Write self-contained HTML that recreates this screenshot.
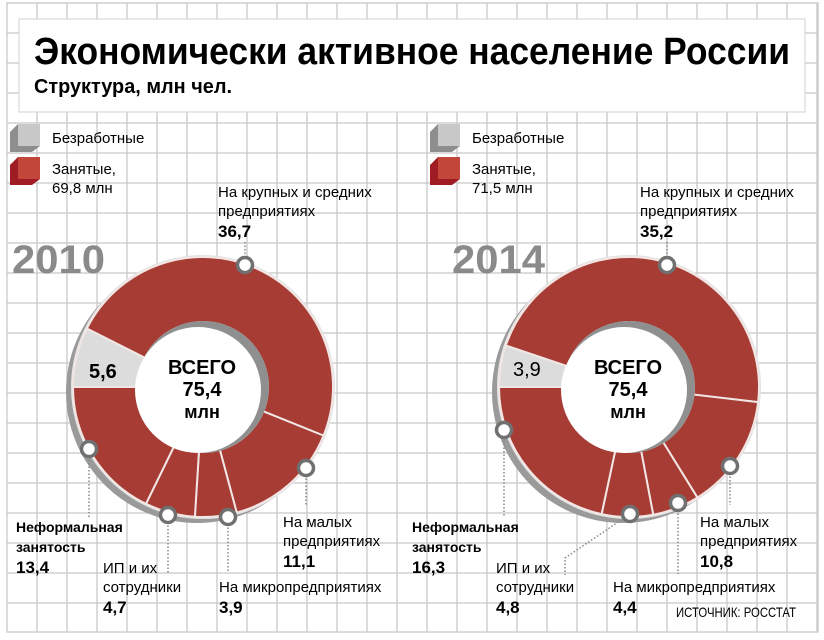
<!DOCTYPE html>
<html><head><meta charset="utf-8"><style>
html,body{margin:0;padding:0;background:#fff;}
svg{display:block;font-family:"Liberation Sans",sans-serif;}
</style></head><body>
<svg id="s" width="824" height="640" viewBox="0 0 824 640" xmlns="http://www.w3.org/2000/svg">
<g id="grid" stroke="#c8c8c8" stroke-width="1.3"></g>
<rect x="7" y="3" width="811" height="629" fill="none" stroke="#c8c8c8" stroke-width="1.3"/>
<rect x="19" y="19" width="786" height="93" fill="#fff" stroke="#d0d0d0" stroke-width="1"/>
<text x="34" y="64" font-size="38" font-weight="bold" textLength="756" lengthAdjust="spacingAndGlyphs">Экономически активное население России</text>
<text x="34" y="93" font-size="20" font-weight="bold" textLength="198" lengthAdjust="spacingAndGlyphs">Структура, млн чел.</text>
<g id="charts"></g>
<text x="676" y="617" font-size="14" textLength="120" lengthAdjust="spacingAndGlyphs">ИСТОЧНИК: РОССТАТ</text>
</svg>
<script>
const NS="http://www.w3.org/2000/svg";
const g=document.getElementById('grid');
for(let x=37;x<818;x+=30){const l=document.createElementNS(NS,'line');l.setAttribute('x1',x);l.setAttribute('x2',x);l.setAttribute('y1',3);l.setAttribute('y2',632);g.appendChild(l);}
for(let y=33;y<632;y+=30){const l=document.createElementNS(NS,'line');l.setAttribute('y1',y);l.setAttribute('y2',y);l.setAttribute('x1',7);l.setAttribute('x2',818);g.appendChild(l);}
const C=document.getElementById('charts');
let html='';
function pt(cx,cy,r,a){a=a*Math.PI/180;return [cx+r*Math.sin(a),cy-r*Math.cos(a)];}
function seg(cx,cy,R,r,a0,a1,fill){
 const p0=pt(cx,cy,R,a0),p1=pt(cx,cy,R,a1),q1=pt(cx,cy,r,a1),q0=pt(cx,cy,r,a0);
 const lg=(a1-a0)>180?1:0;
 return `<path d="M${p0[0]},${p0[1]} A${R},${R} 0 ${lg} 1 ${p1[0]},${p1[1]} L${q1[0]},${q1[1]} A${r},${r} 0 ${lg} 0 ${q0[0]},${q0[1]} Z" fill="${fill}" stroke="#f2e6e4" stroke-width="2"/>`;
}
function chart(ox,cx,cy,vals,year,yx,emp,labels,dots){
 let s='';
 s+=`<polygon points="${ox+10},${124+8} ${ox+18},124 ${ox+40},124 ${ox+40},146 ${ox+32},152 ${ox+10},152" fill="#8e8e8e"/>`;
 s+=`<rect x="${ox+18}" y="124" width="22" height="22" fill="#c8c8c8"/>`;
 s+=`<polygon points="${ox+10},${157+8} ${ox+18},157 ${ox+40},157 ${ox+40},179 ${ox+32},185 ${ox+10},185" fill="#a01c24"/>`;
 s+=`<rect x="${ox+18}" y="157" width="22" height="22" fill="#c2463a"/>`;
 s+=`<text x="${ox+52}" y="143" font-size="15">Безработные</text>`;
 s+=`<text x="${ox+52}" y="174" font-size="15">Занятые,</text>`;
 s+=`<text x="${ox+52}" y="193" font-size="15">${emp}</text>`;
 s+=`<text x="${yx}" y="273" font-size="40" font-weight="bold" fill="#8a8a8a" textLength="93" lengthAdjust="spacingAndGlyphs">${year}</text>`;
 s+=`<circle cx="${cx-6}" cy="${cy+5}" r="131" fill="#9a9a9a"/>`;
 s+=`<circle cx="${cx}" cy="${cy}" r="132" fill="#e4e4e4"/>`;
 const tot=vals.reduce((a,b)=>a+b,0);let a=270;
 vals.forEach((v,i)=>{const d=v/tot*360;s+=seg(cx,cy,130,65,a,a+d,i==0?'#dcdcdc':'#a63c34');a+=d;});
 s+=`<circle cx="${cx}" cy="${cy}" r="66" fill="#8f8f8f"/>`;
 s+=`<circle cx="${cx-5}" cy="${cy+3}" r="63" fill="#fff"/>`;
 s+=`<text x="${cx-1}" y="${cy-13}" font-size="20" font-weight="bold" text-anchor="middle">ВСЕГО</text>`;
 s+=`<text x="${cx-1}" y="${cy+9}" font-size="20" font-weight="bold" text-anchor="middle">75,4</text>`;
 s+=`<text x="${cx-1}" y="${cy+31}" font-size="18" font-weight="bold" text-anchor="middle">млн</text>`;
 s+=labels;
 dots.forEach(d=>{
  if(d[2]) s+=`<polyline points="${d[2]}" fill="none" stroke="#888" stroke-width="1.5" stroke-dasharray="1.5,2"/>`;
  s+=`<circle cx="${d[0]}" cy="${d[1]}" r="7.5" fill="#fff" stroke="#707070" stroke-width="3.5"/>`;
 });
 return s;
}
const L1=`
<text x="218" y="197" font-size="15">На крупных и средних</text>
<text x="218" y="216" font-size="15">предприятиях</text>
<text x="218" y="237" font-size="17" font-weight="bold">36,7</text>
<text x="89" y="378" font-size="20" font-weight="bold">5,6</text>
<text x="16" y="532" font-size="14" font-weight="bold">Неформальная</text>
<text x="16" y="552" font-size="14" font-weight="bold">занятость</text>
<text x="16" y="573" font-size="17" font-weight="bold">13,4</text>
<text x="103" y="573" font-size="15">ИП и их</text>
<text x="103" y="592" font-size="15">сотрудники</text>
<text x="103" y="613" font-size="17" font-weight="bold">4,7</text>
<text x="219" y="592" font-size="15">На микропредприятиях</text>
<text x="219" y="613" font-size="17" font-weight="bold">3,9</text>
<text x="283" y="527" font-size="15">На малых</text>
<text x="283" y="546" font-size="15">предприятиях</text>
<text x="283" y="567" font-size="17" font-weight="bold">11,1</text>`;
const L2=`
<text x="640" y="197" font-size="15">На крупных и средних</text>
<text x="640" y="216" font-size="15">предприятиях</text>
<text x="640" y="237" font-size="17" font-weight="bold">35,2</text>
<text x="513" y="376" font-size="20">3,9</text>
<text x="412" y="532" font-size="14" font-weight="bold">Неформальная</text>
<text x="412" y="552" font-size="14" font-weight="bold">занятость</text>
<text x="412" y="573" font-size="17" font-weight="bold">16,3</text>
<text x="496" y="573" font-size="15">ИП и их</text>
<text x="496" y="592" font-size="15">сотрудники</text>
<text x="496" y="613" font-size="17" font-weight="bold">4,8</text>
<text x="613" y="592" font-size="15">На микропредприятиях</text>
<text x="613" y="613" font-size="17" font-weight="bold">4,4</text>
<text x="700" y="527" font-size="15">На малых</text>
<text x="700" y="546" font-size="15">предприятиях</text>
<text x="700" y="567" font-size="17" font-weight="bold">10,8</text>`;
html+=chart(0,203,387,[5.6,36.7,11.1,3.9,4.7,13.4],'2010',12,'69,8 млн',L1,
 [[245,265,'245,242 245,265'],[306,468,'306,468 306,505'],[228,517,'228,517 228,573'],[168,515,'168,515 168,574'],[89,449,'89,449 89,518']]);
html+=chart(420,629,387,[3.9,35.2,10.8,4.4,4.8,16.3],'2014',452,'71,5 млн',L2,
 [[667,265,'667,242 667,265'],[730,466,'730,466 730,505'],[678,503,'678,503 678,574'],[630,514,'630,514 565,558 565,575'],[504,430,'504,430 504,517']]);
C.innerHTML=html;
</script>
</body></html>
